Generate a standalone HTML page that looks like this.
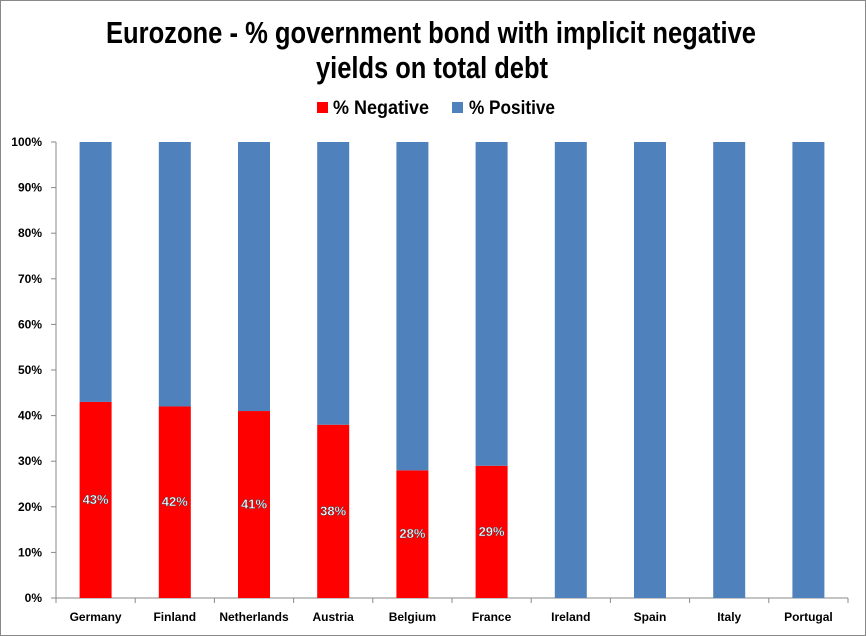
<!DOCTYPE html>
<html><head><meta charset="utf-8"><style>
body{margin:0;background:#fff;}
svg{display:block;font-family:"Liberation Sans Narrow","Liberation Sans",sans-serif;}
</style></head><body>
<svg id="c" width="866" height="636">
<rect x="0.5" y="0.5" width="865" height="635" fill="#fff" stroke="#888"/>
<text x="106" y="43" textLength="650" lengthAdjust="spacingAndGlyphs" font-size="31" font-weight="bold">Eurozone - % government bond with implicit negative</text>
<text x="316" y="78" textLength="232" lengthAdjust="spacingAndGlyphs" font-size="31" font-weight="bold">yields on total debt</text>
<g>
<rect x="317" y="102" width="11" height="11" fill="#ff0000"/>
<text x="333" y="114" textLength="96" lengthAdjust="spacingAndGlyphs" font-size="19" font-weight="bold">% Negative</text>
<rect x="452" y="102" width="11" height="11" fill="#4f81bd"/>
<text x="469" y="114" textLength="86" lengthAdjust="spacingAndGlyphs" font-size="19" font-weight="bold">% Positive</text>
</g>
<g id="plot"></g>
</svg>
<script>
const categories=["Germany","Finland","Netherlands","Austria","Belgium","France","Ireland","Spain","Italy","Portugal"];
const negative=[43,42,41,38,28,29,0,0,0,0];
const positive=[57,58,59,62,72,71,100,100,100,100];
const yTicks=[0,10,20,30,40,50,60,70,80,90,100];
const NS="http://www.w3.org/2000/svg";
const g=document.getElementById('plot');
const x0=56,x1=848,y0=598,y1=142;
const bw=(x1-x0)/categories.length;
const y=v=>y0-(v/100)*(y0-y1);
const xc=i=>x0+bw*(i+0.5);
function mk(t,a){const e=document.createElementNS(NS,t);for(const k in a)e.setAttribute(k,a[k]);g.appendChild(e);return e;}
let ax=mk('line',{x1:x0,y1:y1,x2:x0,y2:y0,stroke:'#888'});


let bx=mk('line',{x1:x0,y1:y0,x2:x1,y2:y0,stroke:'#888'});


yTicks.forEach(t=>{
 let l=mk('line',{x1:x0-5,y1:y(t),x2:x0,y2:y(t),stroke:'#888'});
 
 
 let tx=mk('text',{x:x0-14,y:y(t)+4,'text-anchor':'end','font-size':12,'font-weight':'bold'});
 tx.textContent=t+'%';
 
 
});
for(let i=0;i<=categories.length;i++){
 let l=mk('line',{x1:x0+bw*i,y1:y0,x2:x0+bw*i,y2:y0+5,stroke:'#888'});
 
 
}
categories.forEach((c,i)=>{
 const w=32,bx0=xc(i)-w/2;
 if(negative[i]>0){
  let r=mk('rect',{x:bx0,y:y(negative[i]),width:w,height:y0-y(negative[i]),fill:'#ff0000'});
  
  
  let lb=mk('text',{x:xc(i),y:(y(negative[i])+y0)/2+4,'text-anchor':'middle','font-size':13,'font-weight':'bold',fill:'#fff',stroke:'#345','stroke-width':0.4});
  lb.textContent=negative[i]+'%';
  
  
 }
 let top=negative[i]+positive[i];
 let r2=mk('rect',{x:bx0,y:y(top),width:w,height:y(negative[i])-y(top),fill:'#4f81bd'});
 
 
 let cl=mk('text',{x:xc(i),y:621,'text-anchor':'middle','font-size':12,'font-weight':'bold'});
 cl.textContent=c;
 
 
});
</script>
</body></html>
